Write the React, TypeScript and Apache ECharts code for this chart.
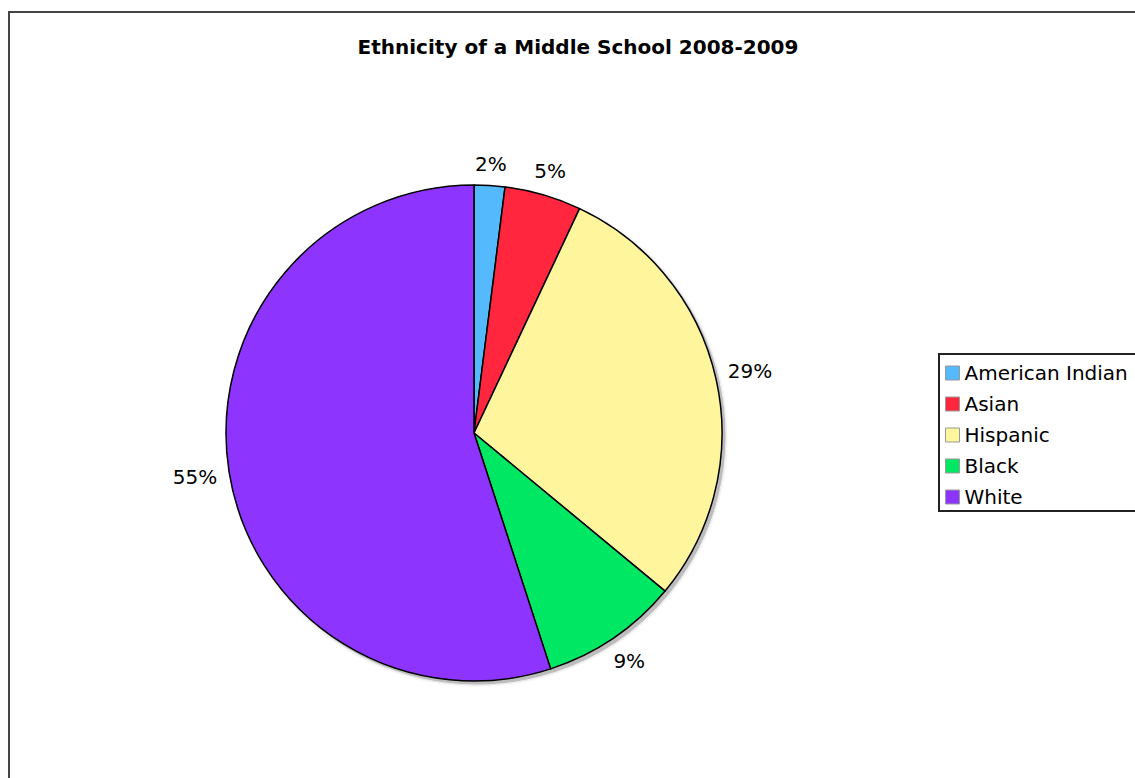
import React, { useEffect, useRef } from "react";
import * as echarts from "echarts";

const titleText = "Ethnicity of a Middle School 2008-2009";
const categories = ["American Indian", "Asian", "Hispanic", "Black", "White"];
const percents = [2, 5, 29, 9, 55];
const sliceColors = ["#55B9FD", "#FF263D", "#FFF59D", "#00E763", "#8D35FF"];

const FONT = "DejaVu Sans";

export default function App() {
  const ref = useRef<HTMLDivElement>(null);

  useEffect(() => {
    if (!ref.current) return;
    const chart = echarts.init(ref.current, undefined, { renderer: "svg" });
    const cx = 464;
    const cy = 420;
    const R = 248;
    const GAP = 11;
    const data = categories.map((name, i) => ({
      name,
      value: percents[i],
      itemStyle: { color: sliceColors[i] },
    }));
    chart.setOption({
      animation: false,
      title: {
        text: titleText,
        left: "center",
        top: 19,
        textStyle: { fontFamily: FONT, fontSize: 20, fontWeight: "bold", color: "#000" },
      },
      legend: {
        orient: "vertical",
        left: 929,
        top: 341,
        data: categories,
        icon: "rect",
        itemWidth: 14,
        itemHeight: 14,
        itemGap: 11,
        padding: [9, 12, 4, 6],
        borderColor: "#222",
        borderWidth: 2,
        borderRadius: 0,
        selectedMode: false,
        itemStyle: { borderColor: "#999", borderWidth: 1 },
        textStyle: { fontFamily: FONT, fontSize: 20, color: "#000" },
      },
      series: [
        {
          type: "pie",
          name: "main",
          z: 3,
          center: [cx, cy],
          radius: [0, R],
          startAngle: 90,
          clockwise: true,
          silent: true,
          data,
          label: {
            show: true,
            position: "inside",
            formatter: "{c}%",
            fontFamily: FONT,
            fontSize: 20,
            color: "#000",
          },
          labelLine: { show: false },
          labelLayout: (params: any) => {
            const r = params.labelRect;
            const lx = r.x + r.width / 2;
            const ly = r.y + r.height / 2;
            const dx = lx - cx;
            const dy = ly - cy;
            const d = Math.hypot(dx, dy) || 1;
            const ux = dx / d;
            const uy = dy / d;
            const dist = R + GAP + (Math.abs(ux) * r.width) / 2 + (Math.abs(uy) * r.height) / 2;
            return { x: cx + ux * dist, y: cy + uy * dist };
          },
          itemStyle: { borderColor: "#000", borderWidth: 1.5 },
          emphasis: { disabled: true },
        },
        {
          type: "pie",
          name: "shadow",
          z: 1,
          center: [cx + 3, cy + 3],
          radius: [0, R + 0.5],
          startAngle: 90,
          silent: true,
          data: categories.map((name, i) => ({ name, value: percents[i] })),
          itemStyle: {
            color: "#bdbdbd",
            borderWidth: 0,
            shadowBlur: 3,
            shadowColor: "rgba(0,0,0,0.25)",
          },
          label: { show: false },
          labelLine: { show: false },
          emphasis: { disabled: true },
        },
      ],
    });
    return () => chart.dispose();
  }, []);

  return (
    <div
      style={{
        position: "fixed",
        left: 0,
        top: 0,
        width: 1135,
        height: 778,
        overflow: "hidden",
        background: "#fff",
      }}
    >
      <div
        style={{
          position: "absolute",
          left: 8,
          top: 11,
          width: 1140,
          height: 800,
          border: "2px solid #444",
          boxSizing: "border-box",
        }}
      >
        <div ref={ref} style={{ width: 1136, height: 796 }} />
      </div>
    </div>
  );
}
